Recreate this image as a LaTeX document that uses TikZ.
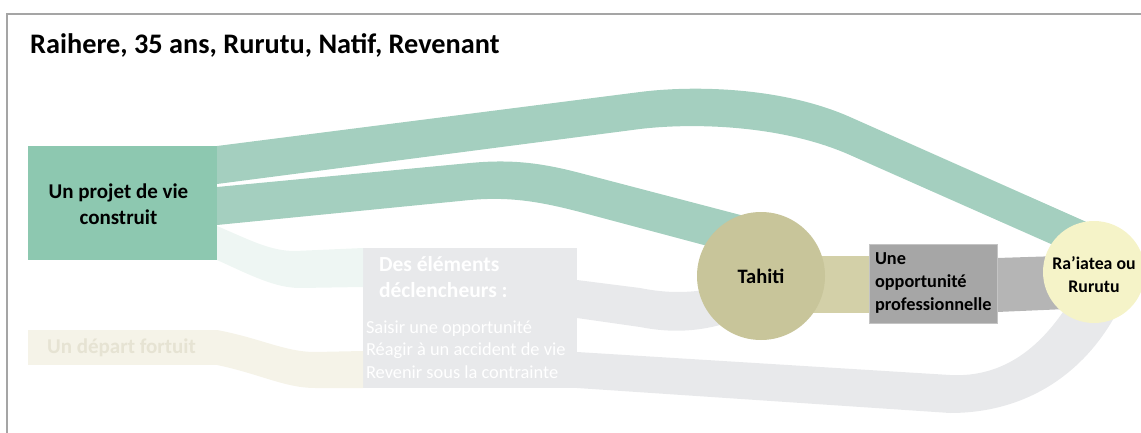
\documentclass[tikz,border=0pt]{standalone}
\usepackage{fontspec}
\setmainfont{Carlito}
\definecolor{frame}{HTML}{A5A5A5}
\definecolor{projetc}{HTML}{8DC8B0}
\definecolor{bandg}{HTML}{A4CFBF}
\definecolor{bandfaint}{HTML}{EEF6F3}
\definecolor{fortc}{HTML}{F5F3E8}
\definecolor{forttext}{HTML}{E6E3D3}
\definecolor{declc}{HTML}{E8E9EB}
\definecolor{tahitic}{HTML}{C8C59A}
\definecolor{bandt}{HTML}{D3D0A8}
\definecolor{oppc}{HTML}{A6A6A6}
\definecolor{oppb}{HTML}{C4C4C4}
\definecolor{bandopp}{HTML}{B5B5B5}
\definecolor{raic}{HTML}{F5F3C8}
\begin{document}
\begin{tikzpicture}[x=1pt,y=-1pt,
  boxnode/.style={rectangle, anchor=north west, inner sep=0pt, outer sep=0pt},
  circnode/.style={circle, inner sep=0pt, outer sep=0pt},
  lbl/.style={inner sep=0pt, outer sep=0pt, text=black, align=center}]
\useasboundingbox (0,0) rectangle (1141,433);
\begin{scope}
\clip (0,0) rectangle (1141,433);
% frame
\draw[frame, line width=2] (7,434) -- (7,14) -- (1142,14);
% title
\node[inner sep=0pt, anchor=west, font=\fontsize{28.3}{32}\selectfont\bfseries] (title) at (30,45) {Raihere, 35 ans, Rurutu, Natif, Revenant};
% node boxes (positions)
\node[boxnode, fill=projetc, minimum width=189, minimum height=114] (projet) at (28,146) {};
\node[boxnode, fill=fortc, minimum width=189, minimum height=35] (fortuit) at (28,330) {};
\node[boxnode, fill=declc, minimum width=214, minimum height=140] (decl) at (363,248) {};
% bands
\fill[bandg] (projet.north east) -- (640,92) .. controls (690,85.6) and (780,86) .. (850,117) -- (1100,228)
  -- (1060,248) -- (850,155) .. controls (780,124) and (690,123) .. (640,129) -- ([yshift=-38]projet.north east) -- cycle;
\fill[bandg] ([yshift=-41]projet.north east) -- (470,163) .. controls (510,159.2) and (540,162.5) .. (580,173) -- (752,218)
  -- (715,248) -- (580,212) .. controls (540,201.6) and (510,196.5) .. (470,200) -- ([yshift=-79]projet.north east) -- cycle;
\fill[bandfaint] ([yshift=-80]projet.north east) .. controls (250,240) and (270,251) .. (295,251) -- (decl.north west) -- ([yshift=-39]decl.north west) -- (300,288) .. controls (275,288) and (250,275) .. (projet.south east) -- cycle;
\fill[fortc] (fortuit.north east) .. controls (260,338) and (285,352) .. (315,352) -- ([yshift=-103]decl.north west) -- (decl.south west) -- (315,388) .. controls (285,388) and (260,374) .. (fortuit.south east) -- cycle;
\fill[declc] ([yshift=-32]decl.north east) -- (640,288) .. controls (665,293) and (690,294) .. (720,287) -- (730,322) .. controls (700,332) and (670,333) .. (640,327) -- ([yshift=-70]decl.north east) -- cycle;
\fill[declc] ([yshift=-104]decl.north east) -- (950,375) .. controls (1005,378) and (1040,345) .. (1063,312) -- (1115,316) .. controls (1085,370) and (1030,413) .. (950,413) -- (decl.south east) -- cycle;
\fill[bandt] (800,256) rectangle (870,313);
\fill[bandopp] (997,258) -- (1090,255) -- (1090,308) -- (997,312) -- cycle;
% circles and opportunity box
\node[circnode, fill=tahitic, minimum size=128] (tahiti) at (761,276) {};
\node[boxnode, fill=oppc, draw=oppb, line width=1, minimum width=128, minimum height=79] (opp) at (869,244) {};
\node[circnode, fill=raic, minimum size=102] (rai) at (1094,272) {};
% texts
\node[lbl, font=\fontsize{21}{25.5}\selectfont\bfseries] at ([xshift=-4,yshift=-1]projet.center) {Un projet de vie\\construit};
\node[lbl, text=forttext, font=\fontsize{21}{24}\selectfont\bfseries] at ([xshift=-1]fortuit.center) {Un départ fortuit};
\node[lbl, text=white, anchor=west, align=left, font=\fontsize{21.5}{26}\selectfont\bfseries] at (379,277) {Des éléments\\déclencheurs :};
\node[lbl, text=white, anchor=west, align=left, font=\fontsize{18.4}{22.5}\selectfont] at (366,349.5) {Saisir une opportunité\\Réagir à un accident de vie\\Revenir sous la contrainte};
\node[lbl, font=\fontsize{20.5}{24}\selectfont\bfseries] at (tahiti.center) {Tahiti};
\node[lbl, anchor=west, align=left, font=\fontsize{18.3}{23}\selectfont\bfseries] at ([xshift=6]opp.west) {Une\\opportunité\\professionnelle};
\node[lbl, font=\fontsize{17.8}{23}\selectfont\bfseries] at ([yshift=-3]rai.center) {Ra’iatea ou\\Rurutu};
\end{scope}
\end{tikzpicture}
\end{document}
